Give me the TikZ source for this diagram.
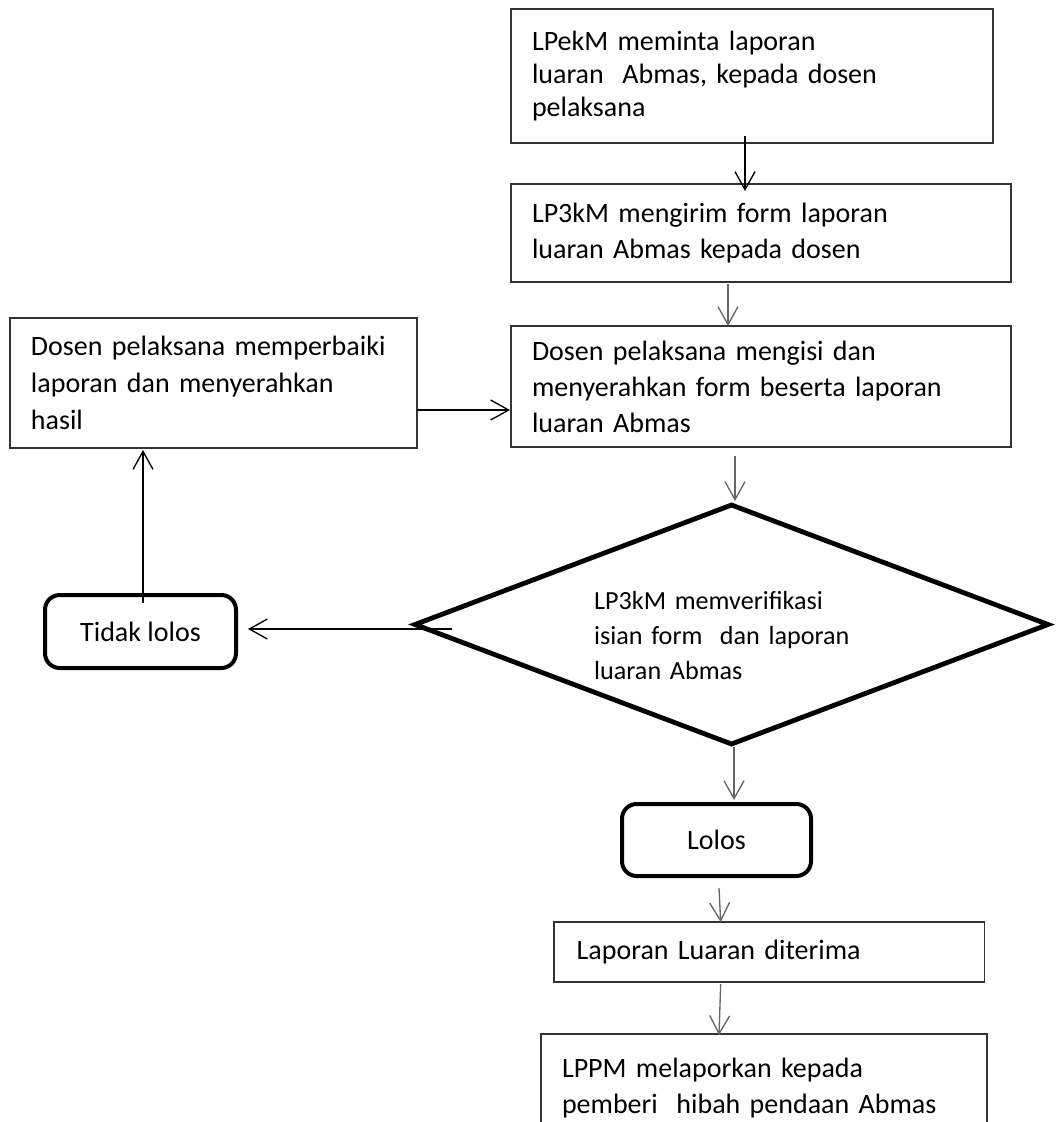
\documentclass[tikz,border=0pt]{standalone}
\usepackage{fontspec}
\setmainfont{Carlito}
\usepackage{tikz}
\usetikzlibrary{arrows.meta,shapes.geometric}
\tikzstyle{process}=[draw=black!80,line width=1.1pt,rectangle,anchor=north west,align=left,inner xsep=15.75pt,inner ysep=0pt,outer sep=0pt,font=\fontsize{21pt}{26.5pt}\selectfont]
\tikzstyle{outcome}=[draw=black,line width=3pt,rectangle,rounded corners=11pt,inner sep=0pt,outer sep=0pt,font=\fontsize{21pt}{26.5pt}\selectfont]
\tikzstyle{decision}=[draw=black,line width=3.6pt,diamond,aspect=2.65,inner sep=0pt,outer sep=0pt,align=left,font=\fontsize{19.6pt}{26pt}\selectfont]
\tikzstyle{arrow}=[draw=black,line width=1pt,-{Straight Barb[length=13.5pt,width=15pt,line width=1pt]}]
\tikzstyle{grey arrow}=[arrow,draw=black!60]

\begin{document}
\begin{tikzpicture}[x=0.75pt,y=-0.75pt]
    \useasboundingbox (0,0) rectangle (1056,1122);
    \clip (0,0) rectangle (1056,1122);
    % boxes of the flow
    \node[process,minimum width=361.5pt,minimum height=100.5pt,text width=330pt,font=\fontsize{21pt}{25pt}\selectfont] (request) at (511,9)
        {LPekM meminta laporan\\luaran~ Abmas, kepada dosen\\pelaksana};
    \node[process,minimum width=375pt,minimum height=73.5pt,text width=343.5pt] (form) at (511,184)
        {LP3kM mengirim form laporan\\luaran Abmas kepada dosen};
    \node[process,minimum width=375pt,minimum height=90.75pt,text width=343.5pt,font=\fontsize{21pt}{27pt}\selectfont] (fill) at (511,326)
        {Dosen pelaksana mengisi dan\\menyerahkan form beserta laporan\\luaran Abmas};
    \node[process,minimum width=305.25pt,minimum height=97.5pt,text width=273.75pt,font=\fontsize{21pt}{27.75pt}\selectfont] (fix) at (10,318)
        {Dosen pelaksana memperbaiki\\laporan dan menyerahkan\\hasil};
    \node[decision,minimum width=474.75pt,minimum height=179.25pt,text width=206pt] (verify) at (731.5,624.5)
        {\rule{0pt}{30pt}LP3kM memverifikasi\\isian form~ dan laporan\\luaran Abmas};
    \node[outcome,minimum width=143.25pt,minimum height=54.75pt] (fail) at (140.5,631.5) {Tidak lolos};
    \node[outcome,minimum width=141.75pt,minimum height=54pt] (pass) at (716.5,840) {Lolos};
    \node[process,minimum width=320.25pt,minimum height=45pt,text width=288.75pt,inner xsep=17pt] (accepted) at (554,922)
        {Laporan Luaran diterima};
    \node[process,minimum width=334.5pt,minimum height=81pt,text width=303pt] (report) at (541,1034)
        {LPPM melaporkan kepada\\pemberi~ hibah pendaan Abmas};

    % connectors
    \path[arrow] ([shift={(-7,-7)}]request.south) -- ([shift={(-16,7)}]form.north);
    \path[grey arrow] ([shift={(-33,2)}]form.south) -- ([shift={(-33,0)}]fill.north);
    \path[grey arrow] ([shift={(-26,9)}]fill.south) -- ([shift={(3.5,-4)}]verify.north);
    \path[arrow] ([shift={(37,4.5)}]verify.west) -- ([shift={(12,-2.5)}]fail.east);
    \path[arrow] ([shift={(2.5,8)}]fail.north) -- ([shift={(-70.5,2)}]fix.south);
    \path[arrow] ([shift={(0,27)}]fix.east) -- ([shift={(-1,23.5)}]fill.west);
    \path[grey arrow] ([shift={(2.5,3)}]verify.south) -- ([shift={(17.5,-4)}]pass.north);
    \path[grey arrow] ([shift={(2.5,12)}]pass.south) -- ([shift={(-48.5,0)}]accepted.north);
    \path[grey arrow] ([shift={(-48.5,2)}]accepted.south) -- ([shift={(-45,1)}]report.north);
\end{tikzpicture}
\end{document}
